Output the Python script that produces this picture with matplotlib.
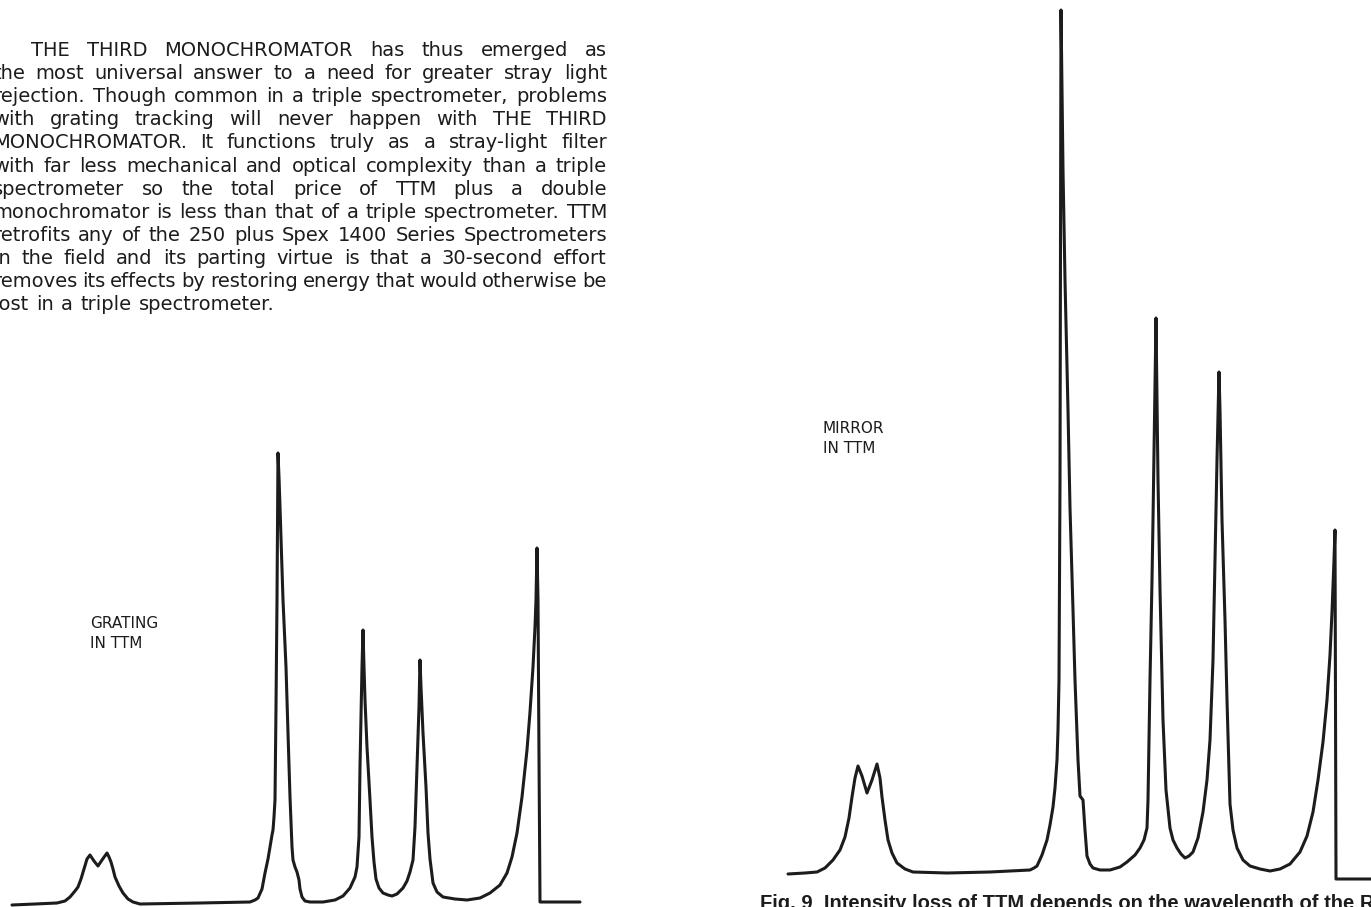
import matplotlib
matplotlib.use("Agg")
import matplotlib.pyplot as plt
from matplotlib.transforms import IdentityTransform

W, H = 1371, 907

# paragraph text, one entry per printed (justified) line
para_lines = [
    "THE THIRD MONOCHROMATOR has thus emerged as",
    "the most universal answer to a need for greater stray light",
    "rejection. Though common in a triple spectrometer, problems",
    "with grating tracking will never happen with THE THIRD",
    "MONOCHROMATOR. It functions truly as a stray-light filter",
    "with far less mechanical and optical complexity than a triple",
    "spectrometer so the total price of TTM plus a double",
    "monochromator is less than that of a triple spectrometer. TTM",
    "retrofits any of the 250 plus Spex 1400 Series Spectrometers",
    "in the field and its parting virtue is that a 30-second effort",
    "removes its effects by restoring energy that would otherwise be",
    "lost in a triple spectrometer.",
]

# spectrum with the grating in TTM (position, intensity)
grating_x = [12, 35, 57, 65, 70, 75, 78, 81, 84, 87, 90, 94, 98, 102, 107, 109,
             111, 113, 115, 119, 123, 128, 133, 140, 200,
             250, 255, 258, 262, 265, 268, 270, 272, 273, 274, 275, 276, 277,
             278, 279, 280, 283, 286, 288, 290, 292, 293, 295, 297, 299, 300,
             302, 305, 310,
             323, 335, 343, 350, 355, 357, 359, 360, 361, 362, 363, 364, 365,
             367, 370, 372, 374, 376, 379, 383, 388, 392, 397, 403, 407, 410,
             413, 415, 417, 419, 420, 421, 423, 426, 428, 430, 433, 437, 443,
             455, 467, 480, 490, 500, 507, 512, 517, 522, 527, 530, 533, 535,
             536, 537, 538, 539, 540, 560, 580]
grating_y = [2, 3, 4, 6, 10, 16, 20, 28, 38, 48, 52, 46, 41, 47, 54, 50,
             45, 38, 30, 21, 14, 8, 5, 3, 4,
             5, 7, 9, 18, 34, 48, 60, 72, 77, 90, 107, 200, 307,
             454, 430, 400, 307, 240, 174, 110, 60, 47, 40, 35, 27, 18,
             10, 6, 5,
             5, 7, 11, 19, 30, 40, 70, 140, 190, 240, 277, 240, 207,
             160, 107, 70, 45, 28, 19, 14, 12, 11, 13, 19, 26, 35,
             47, 80, 140, 200, 247, 220, 174, 120, 74, 48, 24, 15, 10,
             8, 7, 9, 14, 22, 34, 50, 74, 110, 157, 195, 240, 280,
             307, 359, 307, 150, 5, 5, 5]

# spectrum with the mirror in TTM (position, intensity)
mirror_x = [18, 35, 47, 55, 63, 70, 75, 79, 82, 85, 88, 92, 97, 102, 107, 110,
            112, 115, 118, 122, 127, 135, 143, 177, 220,
            260, 264, 267, 272, 277, 280, 283, 285, 287, 288, 289, 290, 291,
            293, 295, 298, 300, 303, 305, 308, 310, 313, 315, 317, 320, 323,
            330, 340, 350, 357, 365, 370, 374, 377, 378, 380, 382, 383, 386,
            387, 388, 390, 393, 396, 400, 403, 407, 411, 415, 419, 423, 428,
            433, 437, 440, 443, 445, 447, 449, 450, 452, 455, 457, 459, 460,
            463, 467, 473, 480, 490, 500, 510, 520, 530, 537, 543, 548, 553,
            557, 560, 562, 564, 565, 566, 601]
mirror_y = [6, 7, 8, 12, 20, 30, 43, 62, 83, 102, 114, 104, 87, 100, 116, 102,
            83, 60, 40, 27, 17, 11, 8, 7, 8,
            10, 12, 14, 25, 40, 55, 73, 92, 120, 150, 200, 400, 870,
            710, 600, 470, 372, 270, 200, 120, 84, 80, 50, 24, 16, 12,
            10, 10, 13, 18, 25, 32, 40, 52, 80, 200, 300, 360, 562,
            480, 400, 290, 160, 90, 52, 40, 32, 26, 22, 24, 28, 42,
            68, 100, 140, 220, 320, 420, 508, 470, 360, 260, 180, 110, 76,
            50, 32, 20, 14, 11, 9, 11, 16, 28, 44, 68, 100, 138,
            180, 225, 268, 320, 350, 1, 1]

grating_label = ["GRATING", "IN TTM"]
mirror_label = ["MIRROR", "IN TTM"]
caption = "Fig. 9  Intensity loss of TTM depends on the wavelength of the Raman lines."

ink = "#1c1c1c"
plt.rcParams["font.family"] = ["DejaVu Sans"]

fig = plt.figure(figsize=(W / 100, H / 100), dpi=100)
fig.patch.set_facecolor("white")


def px_axes(x0, y0, x1, y1):
    # axes placed by its pixel box (top-left origin)
    return fig.add_axes([x0 / W, 1 - y1 / H, (x1 - x0) / W, (y1 - y0) / H])


ax1 = px_axes(0, 437, 600, 907)
ax1.plot(grating_x, grating_y, color=ink, lw=2.2, solid_joinstyle="round",
         solid_capstyle="round", clip_on=False)
ax1.set_xlim(0, 600)
ax1.set_ylim(0, 470)
ax1.axis("off")
for k, s in enumerate(grating_label):
    ax1.text(90, 279 - 20 * k, s, fontsize=11, color=ink, va="baseline")

ax2 = px_axes(770, 0, 1371, 880)
ax2.plot(mirror_x, mirror_y, color=ink, lw=2.2, solid_joinstyle="round",
         solid_capstyle="round", clip_on=False)
ax2.set_xlim(0, 601)
ax2.set_ylim(0, 880)
ax2.axis("off")
for k, s in enumerate(mirror_label):
    ax2.text(53, 447 - 20 * k, s, fontsize=11, color=ink, va="baseline")

# justified paragraph
renderer = fig.canvas.get_renderer()
right_edge = 607
for i, line in enumerate(para_lines):
    words = line.split()
    base = H - (56 + 23.1 * i)
    texts = [fig.text(0, base, w, transform=IdentityTransform(), fontsize=14,
                      color=ink, va="baseline") for w in words]
    widths = [t.get_window_extent(renderer).width for t in texts]
    left = 31 if i == 0 else -7
    if i == len(para_lines) - 1:
        gap = 7.5
    else:
        gap = (right_edge - left - sum(widths)) / (len(words) - 1)
    x = left
    for t, wd in zip(texts, widths):
        t.set_x(x)
        x += wd + gap

fig.text(760, H - 909, caption, transform=IdentityTransform(), fontsize=14.5,
         fontweight="bold", family="Liberation Sans", color=ink, va="baseline")

fig.savefig("out.png", dpi=100, facecolor="white")
